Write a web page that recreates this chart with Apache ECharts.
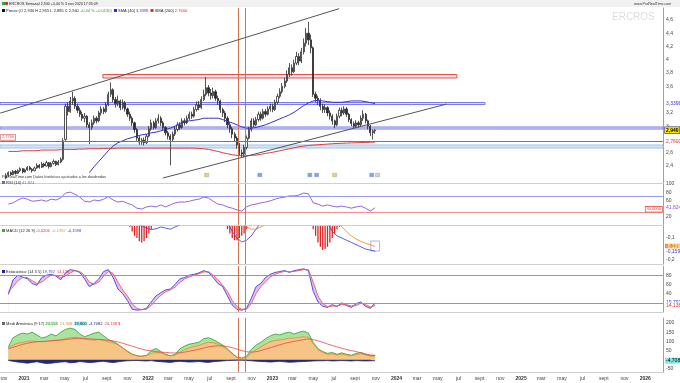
<!DOCTYPE html>
<html><head><meta charset="utf-8">
<script src="https://cdn.jsdelivr.net/npm/echarts@6/dist/echarts.min.js"></script>
<style>html,body{margin:0;padding:0;background:#fff}#c{width:680px;height:383px}</style>
</head><body><div id="c"></div><script>
// ---------- DATA ----------
const firstWeek = '2020-11-09';           // weekly candles, one per week
const opens = [2.22,2.26,2.30,2.27,2.32,2.29,2.33,2.36,2.31,2.34, 2.38,2.35,2.33,2.37,2.41,2.38,2.43,2.40,2.45,2.39, 2.44,2.47,2.42,2.46,2.50,2.80,3.30,3.22,3.38,3.42, 3.30,3.24,3.18,3.12,3.15,3.02,2.98,3.05,3.12,3.08, 3.20,3.26,3.22,3.32,3.48,3.55,3.40,3.34,3.38,3.28, 3.35,3.26,3.18,3.12,3.05,2.95,2.82,2.76,2.79,2.75, 2.85,2.96,3.05,2.98,3.08,3.12,3.05,2.98,2.90,2.85, 2.80,2.88,2.95,3.02,2.98,3.08,3.05,3.12,3.18,3.15, 3.25,3.32,3.28,3.40,3.48,3.58,3.50,3.46,3.52,3.42, 3.38,3.25,3.20,3.12,3.02,2.96,2.88,2.82,2.72,2.60, 2.58,2.68,2.82,2.95,3.08,3.02,3.10,3.18,3.12,3.22, 3.18,3.26,3.30,3.25,3.36,3.45,3.52,3.60,3.68,3.78, 3.88,3.82,3.95,4.05,3.98,4.12,4.25,4.40,4.30,4.18, 3.48,3.42,3.38,3.30,3.25,3.28,3.20,3.15,3.08,3.02, 3.15,3.24,3.20,3.26,3.18,3.10,3.04,3.00,3.05,3.02, 3.12,3.18,3.08,3.00,2.90,2.93];
const closes = [2.26,2.30,2.27,2.32,2.29,2.33,2.36,2.31,2.34,2.38, 2.35,2.33,2.37,2.41,2.38,2.43,2.40,2.45,2.39,2.44, 2.47,2.42,2.46,2.50,2.78,3.30,3.22,3.38,3.42,3.30, 3.24,3.18,3.12,3.15,3.02,2.98,3.05,3.12,3.08,3.20, 3.26,3.22,3.32,3.48,3.55,3.40,3.34,3.38,3.28,3.35, 3.26,3.18,3.12,3.05,2.95,2.82,2.76,2.79,2.75,2.85, 2.96,3.05,2.98,3.08,3.12,3.05,2.98,2.90,2.85,2.80, 2.88,2.95,3.02,2.98,3.08,3.05,3.12,3.18,3.15,3.25, 3.32,3.28,3.40,3.48,3.58,3.50,3.46,3.52,3.42,3.38, 3.25,3.20,3.12,3.02,2.96,2.88,2.82,2.72,2.60,2.58, 2.68,2.82,2.95,3.08,3.02,3.10,3.18,3.12,3.22,3.18, 3.26,3.30,3.25,3.36,3.45,3.52,3.60,3.68,3.78,3.88, 3.82,3.95,4.05,3.98,4.12,4.25,4.40,4.30,4.18,3.48, 3.42,3.38,3.30,3.25,3.28,3.20,3.15,3.08,3.02,3.15, 3.24,3.20,3.26,3.18,3.10,3.04,3.00,3.05,3.02,3.12, 3.18,3.08,3.00,2.90,2.93,2.94];
const lows = [2.20,2.24,2.25,2.26,2.27,2.28,2.31,2.29,2.30,2.33, 2.33,2.30,2.32,2.36,2.36,2.37,2.38,2.39,2.36,2.38, 2.42,2.40,2.41,2.44,2.48,2.78,3.16,3.20,3.32,3.26, 3.20,3.14,3.08,3.06,2.98,2.73,2.94,3.02,3.04,3.06, 3.16,3.18,3.20,3.30,3.44,3.36,3.28,3.30,3.24,3.25, 3.22,3.14,3.08,3.00,2.90,2.78,2.72,2.72,2.71,2.73, 2.83,2.93,2.95,2.96,3.04,3.00,2.94,2.86,2.80,2.41, 2.76,2.85,2.92,2.94,2.96,3.01,3.03,3.09,3.11,3.13, 3.22,3.24,3.26,3.38,3.45,3.45,3.40,3.42,3.38,3.32, 3.20,3.14,3.06,2.97,2.90,2.82,2.76,2.66,2.55,2.52, 2.53,2.65,2.80,2.92,2.98,3.00,3.07,3.08,3.10,3.14, 3.16,3.22,3.21,3.23,3.33,3.42,3.49,3.57,3.65,3.74, 3.76,3.80,3.92,3.92,3.95,4.08,4.20,4.22,4.10,3.44, 3.36,3.32,3.24,3.20,3.20,3.15,3.10,3.02,2.97,3.00, 3.12,3.15,3.17,3.14,3.06,3.00,2.96,2.97,2.98,3.00, 3.08,3.04,2.95,2.85,2.80,2.885];
const highs = [2.29,2.32,2.32,2.34,2.34,2.35,2.38,2.37,2.36,2.40, 2.40,2.37,2.39,2.44,2.43,2.46,2.45,2.48,2.46,2.46, 2.50,2.48,2.49,2.53,2.82,3.34,3.36,3.44,3.52,3.45, 3.34,3.28,3.22,3.20,3.17,3.06,3.10,3.16,3.15,3.23, 3.30,3.29,3.36,3.52,3.66,3.57,3.44,3.46,3.40,3.40, 3.38,3.28,3.22,3.15,3.07,2.97,2.85,2.82,2.83,2.88, 3.00,3.10,3.08,3.12,3.18,3.15,3.08,3.00,2.93,2.88, 2.92,2.99,3.06,3.06,3.12,3.12,3.16,3.22,3.22,3.29, 3.37,3.38,3.45,3.55,3.74,3.62,3.56,3.58,3.55,3.46, 3.40,3.28,3.23,3.15,3.06,2.99,2.91,2.85,2.75,2.65, 2.72,2.86,2.99,3.12,3.12,3.14,3.22,3.22,3.26,3.26, 3.30,3.34,3.34,3.40,3.49,3.57,3.65,3.73,3.84,3.95, 3.93,4.00,4.12,4.10,4.18,4.32,4.48,4.57,4.38,4.20, 3.52,3.46,3.42,3.34,3.33,3.30,3.24,3.18,3.10,3.19, 3.28,3.28,3.30,3.29,3.20,3.12,3.07,3.09,3.08,3.16, 3.24,3.20,3.10,3.02,2.95,2.955];

// indicators: one sample every two weeks (weeks 1,3,5,...,155)
const sma40 = [null,null,null,null,null,null,null,null,null,null, null,null,null,null,null,null,null,2.30,2.39,2.47, 2.55,2.63,2.70,2.75,2.78,2.81,2.83,2.85,2.87,2.88, 2.90,2.91,2.93,2.95,2.97,3.00,3.04,3.07,3.08,3.09, 3.10,3.12,3.12,3.12,3.12,3.10,3.07,3.05,3.02,2.99, 2.97,2.97,2.98,3.00,3.02,3.05,3.08,3.11,3.14,3.17, 3.21,3.26,3.31,3.35,3.38,3.39,3.38,3.37,3.36,3.36, 3.36,3.37,3.38,3.38,3.38,3.37,3.355,3.34];
const sma200 = [2.62,2.62,2.62,2.63,2.63,2.63,2.63,2.64,2.64,2.64, 2.64,2.645,2.65,2.65,2.65,2.655,2.655,2.66,2.66,2.66, 2.665,2.665,2.665,2.67,2.67,2.67,2.67,2.67,2.67,2.67, 2.67,2.67,2.67,2.67,2.67,2.67,2.67,2.67,2.67,2.67, 2.665,2.66,2.65,2.635,2.62,2.60,2.585,2.57,2.56,2.555, 2.555,2.56,2.565,2.575,2.59,2.60,2.615,2.63,2.645,2.66, 2.675,2.69,2.70,2.71,2.715,2.72,2.725,2.73,2.735,2.74, 2.742,2.745,2.748,2.75,2.753,2.755,2.758,2.76];
const rsi = [51,54,61,66,63,58,59,61,58,63, 61,66,78,80,75,68,58,56,61,59, 63,69,61,56,58,53,49,41,39,44, 46,44,49,44,49,54,56,56,58,61, 63,68,66,58,51,49,44,41,37,34, 44,49,51,54,56,59,63,66,68,71, 71,73,78,76,54,51,46,49,46,44, 46,44,41,44,46,41,34,41.824];
const macdLine = [0.02,0.03,0.03,0.04,0.05,0.05,0.06,0.06,0.07,0.08, 0.08,0.09,0.18,0.30,0.34,0.33,0.30,0.25,0.22,0.21, 0.22,0.24,0.24,0.20,0.14,0.07,0.00,-0.03,-0.045,-0.055, -0.062,-0.058,-0.05,-0.055,-0.06,-0.05,-0.04,-0.03,-0.01,0.02, 0.05,0.08,0.10,0.09,0.06,0.01,-0.03,-0.07,-0.10,-0.118, -0.11,-0.09,-0.06,-0.03,0.01,0.04,0.08,0.12,0.17,0.22, 0.27,0.31,0.36,0.40,0.28,0.15,0.04,-0.03,-0.07,-0.09, -0.10,-0.11,-0.12,-0.13,-0.14,-0.15,-0.155,-0.1598];
const macdSignal = [0.01,0.02,0.02,0.03,0.04,0.04,0.05,0.05,0.06,0.06, 0.07,0.07,0.10,0.16,0.21,0.25,0.27,0.27,0.26,0.25, 0.24,0.24,0.24,0.23,0.21,0.17,0.12,0.08,0.05,0.02, 0.00,-0.015,-0.025,-0.03,-0.035,-0.04,-0.04,-0.035,-0.03,-0.02, 0.00,0.02,0.04,0.06,0.06,0.05,0.03,0.01,-0.01,-0.03, -0.05,-0.06,-0.06,-0.05,-0.04,-0.02,0.00,0.03,0.06,0.10, 0.14,0.18,0.22,0.26,0.27,0.25,0.20,0.13,0.06,0.00, -0.05,-0.07,-0.09,-0.105,-0.115,-0.125,-0.13,-0.1392];
// MACD histogram, weekly
const macdHist = [0.01,0.01,0.02,0.01,0.02,0.02,0.01,0.02,0.02,0.01, 0.01,0.02,0.02,0.01,0.02,0.02,0.01,0.02,0.01,0.01, 0.02,0.01,0.01,0.02,0.06,0.12,0.13,0.14,0.13,0.10, 0.07,0.04,0.02,0.01,-0.01,-0.02,-0.01,0.00,0.01,0.02, 0.03,0.03,0.04,0.05,0.06,0.04,0.03,0.02,0.01,0.01, 0.00,-0.03,-0.05,-0.07,-0.09,-0.10,-0.115,-0.12,-0.115,-0.10, -0.08,-0.06,-0.04,-0.02,0.00,0.01,0.01,0.00,-0.01,-0.02, -0.01,0.00,0.01,0.02,0.02,0.03,0.03,0.04,0.04,0.05, 0.05,0.05,0.06,0.06,0.07,0.06,0.05,0.04,0.03,0.02, 0.01,-0.01,-0.03,-0.06,-0.08,-0.10,-0.11,-0.11,-0.10,-0.09, -0.08,-0.06,-0.04,-0.02,0.00,0.01,0.02,0.02,0.03,0.03, 0.03,0.03,0.03,0.04,0.04,0.05,0.05,0.06,0.07,0.07, 0.07,0.08,0.08,0.07,0.08,0.08,0.09,0.07,-0.03,-0.06, -0.09,-0.12,-0.14,-0.155,-0.15,-0.14,-0.12,-0.10,-0.08,-0.06, -0.05,-0.03,-0.02,-0.02,-0.02,-0.03,-0.03,-0.03,-0.03,-0.02, -0.02,-0.02,-0.02,-0.02,-0.02,-0.023];
const stochK = [38,70,80,76,72,62,58,75,80,82, 78,70,85,92,90,86,72,55,62,72, 88,92,75,50,40,25,6,4,5,8, 22,35,42,48,50,60,72,75,80,82, 85,90,86,75,62,55,35,15,6,4, 8,30,55,62,75,82,86,88,90,86, 90,92,94,90,45,22,12,10,16,12, 20,14,10,18,22,12,8,19.792];
const stochD = [45,55,68,75,75,68,62,65,73,80, 80,75,78,85,90,88,80,65,60,65, 78,88,84,65,48,35,18,8,5,6, 14,26,36,44,48,54,64,72,76,80, 83,87,88,80,70,58,45,25,12,6, 6,18,40,55,66,76,82,86,88,88, 88,90,92,92,65,35,18,12,13,13, 16,16,13,14,19,16,11,14.138];
const harmGreen = [70,120,135,145,140,150,135,118,125,140, 130,150,165,172,165,140,125,135,145,150, 130,110,100,85,65,45,30,22,20,25, 50,62,45,30,22,30,60,75,85,90, 95,115,120,110,95,80,60,35,15,10, 20,55,80,95,115,130,140,135,145,150, 140,150,155,145,95,60,45,35,40,30, 38,30,25,35,40,30,22,24.558];
const harmOrange = [65,80,90,95,100,102,100,98,100,104, 106,110,115,120,122,118,112,108,108,110, 105,98,92,82,65,48,32,22,18,22, 35,40,38,28,22,25,40,55,65,72, 78,88,95,92,85,72,55,32,14,8, 15,35,55,70,85,98,105,108,112,118, 118,122,125,122,88,55,40,30,32,26, 30,26,22,28,33,26,20,21.308];
const harmRed = [60,68,76,84,90,95,98,100,101,103, 105,107,110,113,116,117,116,114,112,111, 109,106,102,97,90,82,74,66,58,52, 48,45,42,40,38,37,38,42,47,52, 58,64,70,74,76,76,72,66,58,50, 44,42,44,50,58,66,74,82,89,95, 100,105,110,113,110,103,95,86,78,70, 63,56,50,45,38,32,27,24.138];
const harmNeg = [-3,-8,-12,-15,-18,-14,-10,-16,-20,-18, -15,-12,-10,-16,-14,-9,-12,-15,-13,-10, -8,-12,-15,-11,-7,-5,-4,-3,-5,-6, -4,-8,-10,-12,-14,-10,-8,-10,-12,-11, -9,-12,-14,-10,-8,-6,-4,-3,-2,-2, -3,-5,-7,-9,-10,-12,-10,-8,-11,-13, -12,-10,-9,-8,-6,-5,-5,-4,-6,-5, -4,-5,-6,-4,-5,-6,-5,-4.7082];

// drawn objects on the price panel
const redZone = { from: '2021-08-21', to: '2024-06-26', low: 3.726, high: 3.778 };
const blueZoneUpper = { to: '2024-09-17', low: 3.326, high: 3.3565 };
const blueZoneLower = { low: 2.957, high: 2.9875 };
const lightBand = { low: 2.671, high: 2.716 };
const redLevel = 2.7766;
const trendLines = [[['2020-10-23', 3.196], ['2023-07-16', 4.77]], [['2022-02-13', 2.219], ['2024-05-28', 3.334]]];
const verticalDates = ['2022-09-24', '2022-10-12'];
const eventDates = ['2022-06-22','2022-11-25','2023-04-21','2023-05-11','2023-07-03','2023-10-20','2023-11-06'];
const eventColors = ['#e8c84a','#5b8ee6','#5b8ee6','#5b8ee6','#e8c84a','#5b8ee6','#c8c8c8'];
const priceTicks = [2.4,2.6,3,3.2,3.6,3.8,4,4.2,4.4,4.6];
const monthNames = {2:'mar',4:'may',6:'jul',8:'sept',10:'nov'};

// ---------- BUILD ----------
const DAY = 86400000;
const t0 = Date.parse(firstWeek);
const weeks = closes.map((_, i) => t0 + i * 7 * DAY);
const sdates = rsi.map((_, k) => weeks[2 * k + 1]);
const xMin = Date.UTC(2020, 9, 22, 12), xMax = Date.UTC(2026, 1, 22);
const P = s => Date.parse(s);
const fmt = v => String(v).replace('.', ',');
const pair = arr => arr.map((v, k) => [sdates[k], v]);

const monthTicks = [];
for (let y = 2020, m = 10; ; m += 2) { if (m >= 12) { m -= 12; y++; } const t = Date.UTC(y, m, 1); if (t > xMax) break; monthTicks.push(t); }

const FONT = 'Liberation Sans, Arial, sans-serif';
const grids = [
  { top: 8, height: 175 }, { top: 184, height: 41 }, { top: 226, height: 38 }, { top: 266, height: 46 }, { top: 318, height: 54 }
].map(g => Object.assign({ left: 0, right: 17, outerBoundsMode: 'none', containLabel: false }, g));

const xAxes = grids.map((g, i) => ({
  type: 'value', gridIndex: i, min: xMin, max: xMax,
  axisLine: { show: true, onZero: false, lineStyle: { color: '#cfcfcf', width: 1 } },
  axisTick: { show: false }, splitLine: { show: false },
  axisLabel: i === 4 ? {
    show: true, customValues: monthTicks, fontSize: 5, color: '#444', margin: 4, fontFamily: FONT, hideOverlap: false,
    formatter: v => { const d = new Date(v); const m = d.getUTCMonth(); return m === 0 ? '{y|' + d.getUTCFullYear() + '}' : monthNames[m]; },
    rich: { y: { fontWeight: 'bold', fontSize: 5, color: '#333', fontFamily: FONT } }
  } : { show: false }
}));
const yRanges = [[2.144, 4.78, priceTicks], [0, 100, [20, 60, 80, 100]], [-0.218, -0.0455, [-0.1, -0.2]], [0, 100, [40, 60, 80]], [-66, 227, [-50, 50, 100, 150, 200]]];
const yAxes = yRanges.map((r, i) => ({
  type: 'value', gridIndex: i, position: 'right', min: r[0], max: r[1],
  axisLine: { show: true, onZero: false, lineStyle: { color: '#a0a0a0', width: 1 } },
  axisTick: { show: false }, splitLine: { show: false },
  axisLabel: { customValues: r[2], fontSize: 5, color: '#444', margin: 3, fontFamily: FONT, formatter: v => fmt(v), hideOverlap: false }
}));

const vLines = verticalDates.map(d => ({ xAxis: P(d) }));
const vStyle = { color: '#d2643c', width: 1, type: 'solid', opacity: 0.9 };
function edge(v, text, color, bg, border, bold) {
  return { yAxis: v, lineStyle: { color: 'rgba(0,0,0,0)', width: 0 },
    label: { show: true, position: 'end', distance: 2, formatter: text, color: color, fontSize: 5, fontFamily: FONT,
      fontWeight: bold ? 'bold' : 'normal', backgroundColor: bg || 'transparent', borderColor: border || 'transparent',
      borderWidth: border ? 0.6 : 0, padding: [0.5, 1] } };
}
const hline = (v, color, w) => ({ yAxis: v, lineStyle: { color: color, width: w || 1, type: 'solid' }, label: { show: false } });
const vMarks = () => vLines.map(v => Object.assign({ lineStyle: vStyle, label: { show: false } }, v));

const series = [];
// price panel
series.push({
  type: 'candlestick', xAxisIndex: 0, yAxisIndex: 0, encode: { x: 0, y: [1, 2, 3, 4] },
  data: weeks.map((t, i) => [t, opens[i], closes[i], lows[i], highs[i]]),
  barWidth: 1.7,
  itemStyle: { color: '#ffffff', color0: '#2a2a2a', borderColor: '#2a2a2a', borderColor0: '#2a2a2a', borderWidth: 0.8 },
  markArea: { silent: true, data: [
    [{ coord: [P(redZone.from), redZone.low], itemStyle: { color: '#fde4e4', borderColor: '#e2504f', borderWidth: 1 } }, { coord: [P(redZone.to), redZone.high] }],
    [{ coord: [xMin, blueZoneUpper.low], itemStyle: { color: '#e3e3fb', borderColor: '#7b7bea', borderWidth: 1 } }, { coord: [P(blueZoneUpper.to), blueZoneUpper.high] }],
    [{ yAxis: blueZoneLower.low, itemStyle: { color: '#e3e3fb', borderColor: '#7b7bea', borderWidth: 1 } }, { yAxis: blueZoneLower.high }],
    [{ yAxis: lightBand.low, itemStyle: { color: '#d6e6f8', borderColor: '#9dc2ee', borderWidth: 1 } }, { yAxis: lightBand.high }]
  ] },
  markLine: { silent: true, symbol: 'none', animation: false, data: [
    ...vMarks(),
    ...trendLines.map(l => [{ coord: [P(l[0][0]), l[0][1]], lineStyle: { color: '#555', width: 1, type: 'solid' }, label: { show: false } }, { coord: [P(l[1][0]), l[1][1]] }]),
    Object.assign(hline(redLevel, '#e24a4a', 1), { label: { show: true, position: 'insideStartTop', distance: 1, formatter: fmt(redLevel), color: '#e24a4a', fontSize: 4, fontFamily: FONT, backgroundColor: '#fff', borderColor: '#e24a4a', borderWidth: 0.6, padding: [0.5, 1] } }),
    edge(3.3398, '3,3398', '#3535d0', '#fff'),
    edge(closes[closes.length - 1], '2,940', '#000', '#ffe600', '#333', true),
    edge(2.76, '2,7600', '#e03030', '#fff')
  ] }
});
series.push({ type: 'line', xAxisIndex: 0, yAxisIndex: 0, data: pair(sma40), showSymbol: false, symbol: 'none', lineStyle: { color: '#3333cc', width: 1 }, z: 3 });
series.push({ type: 'line', xAxisIndex: 0, yAxisIndex: 0, data: pair(sma200), showSymbol: false, symbol: 'none', lineStyle: { color: '#e03a3a', width: 1 }, z: 3 });
series.push({ type: 'scatter', xAxisIndex: 0, yAxisIndex: 0, data: eventDates.map((d, i) => ({ value: [P(d), 2.2645], itemStyle: { color: eventColors[i], borderColor: '#777', borderWidth: 0.4 } })), symbol: 'rect', symbolSize: [4, 3.5], z: 4 });
// RSI
series.push({ type: 'line', xAxisIndex: 1, yAxisIndex: 1, data: pair(rsi), symbol: 'none', lineStyle: { color: '#8a55d6', width: 0.9 },
  markLine: { silent: true, symbol: 'none', data: [
    hline(70, '#9a9af0', 1),
    Object.assign(hline(30, '#f09090', 1), { label: { show: true, position: 'insideEndTop', distance: 1, formatter: '30,0000', color: '#e03030', fontSize: 4, fontFamily: FONT, backgroundColor: '#fff', borderColor: '#e03030', borderWidth: 0.6, padding: [0.5, 1] } }),
    ...vMarks(),
    edge(41.824, '41,824', '#8a55d6', '#fff')
  ] } });
// MACD
series.push({ type: 'bar', xAxisIndex: 2, yAxisIndex: 2, data: weeks.map((t, i) => [t, macdHist[i]]), barWidth: 1.3, itemStyle: { color: '#e02424' }, clip: true });
series.push({ type: 'line', xAxisIndex: 2, yAxisIndex: 2, data: pair(macdLine), symbol: 'none', lineStyle: { color: '#4a4ae0', width: 0.9 }, clip: true,
  markArea: { silent: true, data: [[{ coord: [P('2023-10-17'), -0.1136], itemStyle: { color: 'rgba(0,0,0,0)', borderColor: '#8ea8e2', borderWidth: 0.8 } }, { coord: [P('2023-11-12'), -0.159] }]] },
  markLine: { silent: true, symbol: 'none', data: [
    ...vMarks(),
    edge(-0.1392, '-0,1392', '#fff', '#f0902a'),
    edge(-0.1598, '-0,1598', '#3a3ad8', '#fff')
  ] } });
series.push({ type: 'line', xAxisIndex: 2, yAxisIndex: 2, data: pair(macdSignal), symbol: 'none', lineStyle: { color: '#f0902a', width: 0.9 }, clip: true });
// Stochastic: fill between %K and %D (upper envelope filled, lower envelope masked white)
const stHi = stochK.map((v, k) => Math.max(v, stochD[k]));
const stLo = stochK.map((v, k) => Math.min(v, stochD[k]));
series.push({ type: 'line', xAxisIndex: 3, yAxisIndex: 3, data: pair(stHi), symbol: 'none', lineStyle: { opacity: 0 }, areaStyle: { color: '#e3c2f0', opacity: 1 }, z: 1 });
series.push({ type: 'line', xAxisIndex: 3, yAxisIndex: 3, data: pair(stLo), symbol: 'none', lineStyle: { opacity: 0 }, areaStyle: { color: '#ffffff', opacity: 1 }, z: 1,
  markLine: { silent: true, symbol: 'none', data: [
    hline(80, '#8c8cf0', 1), hline(20, '#8c8cf0', 1),
    ...vMarks(),
    edge(19.792, '19,792', '#3535d0', '#fff'),
    edge(14.138, '14,138', '#e03030', '#fff')
  ] } });
series.push({ type: 'line', xAxisIndex: 3, yAxisIndex: 3, data: pair(stochK), symbol: 'none', lineStyle: { color: '#4040e0', width: 0.9 }, z: 3 });
series.push({ type: 'line', xAxisIndex: 3, yAxisIndex: 3, data: pair(stochD), symbol: 'none', lineStyle: { color: '#f05a5a', width: 0.9 }, z: 3 });
// last panel
series.push({ type: 'line', xAxisIndex: 4, yAxisIndex: 4, data: pair(harmGreen), symbol: 'none', lineStyle: { color: '#2f9a2f', width: 0.8 }, areaStyle: { color: '#a8e4a0', opacity: 1 },
  markLine: { silent: true, symbol: 'none', data: [
    ...vMarks(),
    edge(-4.7082, '-4,7082', '#000', '#7fe8e8')
  ] } });
series.push({ type: 'line', xAxisIndex: 4, yAxisIndex: 4, data: pair(harmOrange), symbol: 'none', lineStyle: { color: '#e38a2c', width: 0.8 }, areaStyle: { color: '#f6c586', opacity: 1 } });
series.push({ type: 'line', xAxisIndex: 4, yAxisIndex: 4, data: pair(harmRed), symbol: 'none', lineStyle: { color: '#e84848', width: 0.8 } });
series.push({ type: 'line', xAxisIndex: 4, yAxisIndex: 4, data: pair(harmNeg), symbol: 'none', lineStyle: { color: '#18246e', width: 0.8 }, areaStyle: { color: '#1e2b85', opacity: 1 } });

const T = (x, y, rich, text, extra) => ({ type: 'text', left: x, top: y, silent: true, z: 100,
  style: Object.assign({ text: text, rich: rich, font: '4px ' + FONT, fill: '#222' }, extra || {}) });
const sq = c => ({ backgroundColor: c, width: 3, height: 3 });
const graphic = [
  { type: 'rect', shape: { x: 0, y: 0, width: 680, height: 7 }, style: { fill: '#f1f1f1' }, silent: true, z: 90 },
  T(2, 1.5, { g: sq('#2fa84a'), r: sq('#e03030'), t: { fontSize: 3.6, fill: '#222', fontFamily: FONT } }, '{g|}{r|} {t|ERCROS Semanal 2,940 +0,44 % 3 nov 2023 17:35:09}'),
  T(634, 1.5, { t: { fontSize: 3.6, fill: '#333', fontFamily: FONT } }, '{t|www.ProRealTime.com}'),
  T(612, 12, null, 'ERCROS', { font: '10px ' + FONT, fill: '#dedede' }),
  T(2, 8.5, { k: sq('#111'), b: sq('#2b2bc8'), r: sq('#e03030'), t: { fontSize: 4, fill: '#222', fontFamily: FONT }, gr: { fontSize: 4, fill: '#2aa02a', fontFamily: FONT }, bv: { fontSize: 4, fill: '#3535d0', fontFamily: FONT }, rv: { fontSize: 4, fill: '#e03030', fontFamily: FONT } },
    '{k|} {t|Precio (O 2,930 H 2,955 L 2,885 C 2,940} {gr|+0,44 % +0,0130)}  {b|} {t|SMA (40)} {bv|3,3398}  {r|} {t|SMA (200)} {rv|2,7600}'),
  T(2, 174.5, { t: { fontSize: 3.8, fill: '#333', fontFamily: FONT } }, '{t|ProRealTime.com Datos históricos ajustados a los dividendos}'),
  T(2, 180.5, { p: sq('#8a55d6'), t: { fontSize: 4, fill: '#222', fontFamily: FONT }, v: { fontSize: 4, fill: '#8a55d6', fontFamily: FONT } }, '{p|} {t|RSI (14)} {v|41,824}'),
  T(2, 228.5, { p: sq('#2fa84a'), t: { fontSize: 4, fill: '#222', fontFamily: FONT }, a: { fontSize: 4, fill: '#e03030', fontFamily: FONT }, b: { fontSize: 4, fill: '#f0902a', fontFamily: FONT }, c: { fontSize: 4, fill: '#3535d0', fontFamily: FONT } }, '{p|} {t|MACD (12 26 9)} {a|-0,0206}  {b|-0,1392}  {c|-0,1598}'),
  T(2, 269.5, { p: sq('#2020a0'), t: { fontSize: 4, fill: '#222', fontFamily: FONT }, b: { fontSize: 4, fill: '#3535d0', fontFamily: FONT }, r: { fontSize: 4, fill: '#e03030', fontFamily: FONT } }, '{p|} {t|Estocástico (14 3 5)} {b|19,792}  {r|14,138}'),
  T(2, 321.5, { p: sq('#666'), t: { fontSize: 4, fill: '#222', fontFamily: FONT }, g: { fontSize: 4, fill: '#2a9a2a', fontFamily: FONT, backgroundColor: '#dff5dc' }, o: { fontSize: 4, fill: '#e38a2c', fontFamily: FONT }, c: { fontSize: 4, fill: '#222', fontFamily: FONT, backgroundColor: '#8ff0f0' }, n: { fontSize: 4, fill: '#18246e', fontFamily: FONT }, r: { fontSize: 4, fill: '#e03030', fontFamily: FONT } },
    '{p|} {t|Medi Armónica (9 17)} {g|24,558}  {o|21,308}  {c|19,800}  {n|-4,7082}  {r|24,138 $}')
];

const chart = echarts.init(document.getElementById('c'), null, { renderer: 'canvas' });
chart.setOption({ animation: false, backgroundColor: '#fff', grid: grids, xAxis: xAxes, yAxis: yAxes, series: series, graphic: graphic });
</script></body></html>
